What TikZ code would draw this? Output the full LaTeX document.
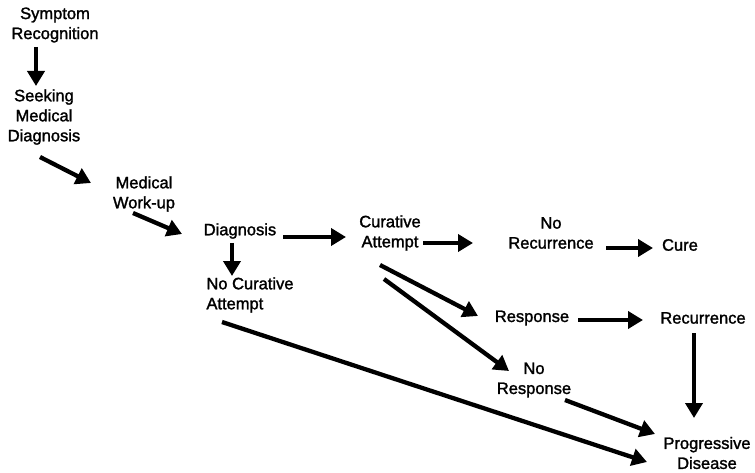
\documentclass[tikz,border=0pt]{standalone}
\usepackage{fontspec}
\setmainfont{Liberation Sans}[UprightFeatures={FakeBold=1.6}]
\usetikzlibrary{arrows.meta}
\tikzstyle{stage} = [inner sep=0pt, align=center, font=\fontsize{16.5}{20}\selectfont]
\tikzstyle{arrow} = [line width=4.3pt,-{Triangle[length=15pt,width=17pt]}]

\begin{document}
\begin{tikzpicture}[x=1pt,y=-1pt]
        \useasboundingbox (0,0) rectangle (755,473);
        \node (symptom) [stage] at (55,25) {Symptom\\Recognition};
        \node (seeking) [stage] at (44,117) {Seeking\\Medical\\Diagnosis};
        \node (workup) [stage] at (144,194) {Medical\\Work-up};
        \node (diagnosis) [stage] at (240,231) {Diagnosis};
        \node (curative) [stage] at (390,233) {Curative\\Attempt};
        \node (norec) [stage] at (551,233) {No\\Recurrence};
        \node (cure) [stage] at (680,245) {Cure};
        \node (nocur) [stage, align=left] at (250,295) {No Curative\\ Attempt};
        \node (response) [stage] at (532,318) {Response};
        \node (recurrence) [stage] at (703,318) {Recurrence};
        \node (noresp) [stage] at (534,380) {No\\Response};
        \node (progressive) [stage] at (707,453) {Progressive\\Disease};

        \draw [arrow] ([shift={(-19,22)}]symptom.center) -- ([shift={(-8,-31)}]seeking.center);
        \draw [arrow] ([shift={(-4,40)}]seeking.center) -- ([shift={(-53,-11)}]workup.center);
        \draw [arrow] ([shift={(-11,19)}]workup.center) -- ([shift={(-58,3)}]diagnosis.center);
        \draw [arrow] ([shift={(43,6)}]diagnosis.center) -- ([shift={(-44,4)}]curative.center);
        \draw [arrow] ([shift={(33,10)}]curative.center) -- ([shift={(-78,10)}]norec.center);
        \draw [arrow] ([shift={(55,15)}]norec.center) -- ([shift={(-27,3)}]cure.center);
        \draw [arrow] ([shift={(-8,12)}]diagnosis.center) -- ([shift={(-18,-19)}]nocur.center);
        \draw [arrow] ([shift={(-10,32)}]curative.center) -- ([shift={(-54,-2)}]response.center);
        \draw [arrow] ([shift={(-6,46)}]curative.center) -- ([shift={(-25,-9)}]noresp.center);
        \draw [arrow] ([shift={(46,2)}]response.center) -- ([shift={(-60,2)}]recurrence.center);
        \draw [arrow] ([shift={(-9,15)}]recurrence.center) -- ([shift={(-13,-35)}]progressive.center);
        \draw [arrow] ([shift={(31,20)}]noresp.center) -- ([shift={(-52,-19)}]progressive.center);
        \draw [arrow] ([shift={(-28,27)}]nocur.center) -- ([shift={(-60,9)}]progressive.center);
    \end{tikzpicture}
\end{document}
